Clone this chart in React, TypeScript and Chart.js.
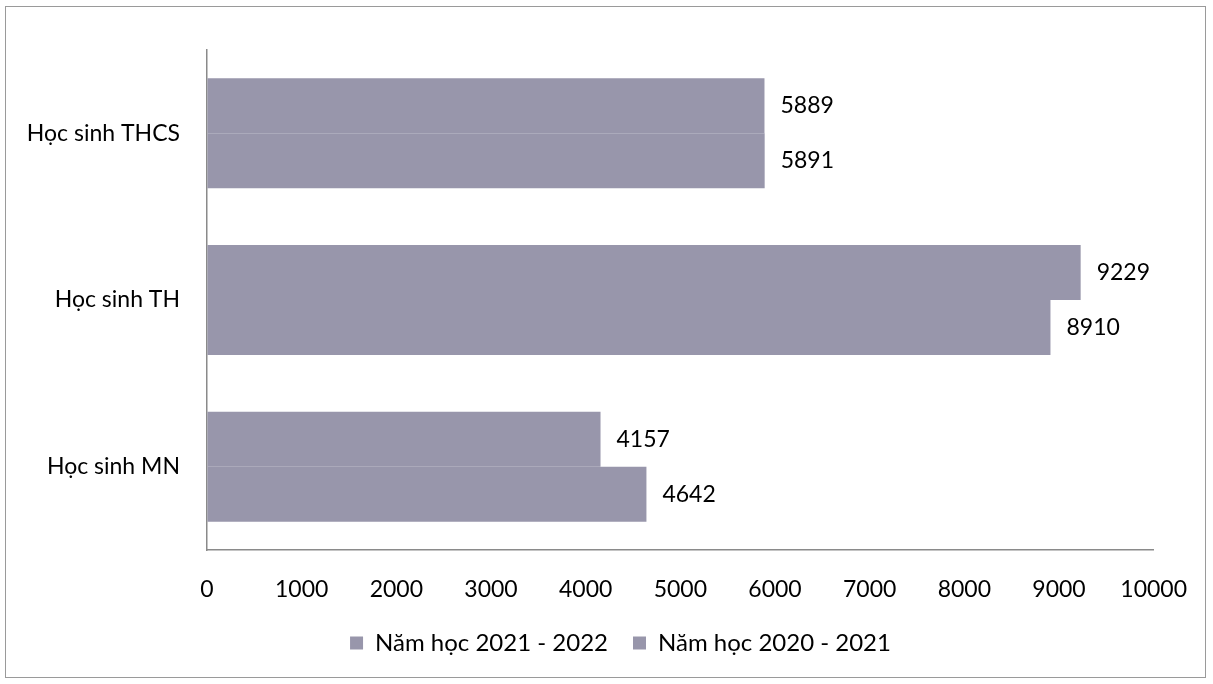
import React, { useEffect, useRef } from "react";
import { Chart, registerables } from "chart.js";

Chart.register(...registerables);

const categories = ["Học sinh THCS", "Học sinh TH", "Học sinh MN"];
const seriesNames = ["Năm học 2021 - 2022", "Năm học 2020 - 2021"];
const values2021_2022 = [5889, 9229, 4157];
const values2020_2021 = [5891, 8910, 4642];
const xMin = 0;
const xMax = 10000;
const xStep = 1000;

const FONT = "Lato, 'Noto Sans', sans-serif";

const valueLabels = {
  id: "valueLabels",
  afterDatasetsDraw(chart: any) {
    const ctx = chart.ctx;
    ctx.save();
    ctx.font = `23px ${FONT}`;
    ctx.fillStyle = "#000";
    ctx.textAlign = "left";
    ctx.textBaseline = "middle";
    chart.data.datasets.forEach((ds: any, di: number) => {
      const meta = chart.getDatasetMeta(di);
      meta.data.forEach((bar: any, i: number) => {
        ctx.fillText(String(ds.data[i]), bar.x + 16, bar.y);
      });
    });
    ctx.restore();
  },
};

// shift the bottom legend so it is centred like the original
const legendShift = {
  id: "legendShift",
  afterLayout(chart: any) {
    const lg = chart.legend;
    if (!lg) return;
    const offset = 42;
    lg.left += offset;
    lg.right += offset;
  },
};

export default function App() {
  const ref = useRef<HTMLCanvasElement>(null);
  useEffect(() => {
    if (!ref.current) return;
    const chart = new Chart(ref.current, {
      type: "bar",
      data: {
        labels: categories,
        datasets: [
          {
            label: seriesNames[0],
            data: values2021_2022,
            backgroundColor: "#9896ab",
          },
          {
            label: seriesNames[1],
            data: values2020_2021,
            backgroundColor: "#9896ab",
          },
        ],
      },
      options: {
        indexAxis: "y",
        animation: false,
        responsive: false,
        maintainAspectRatio: false,
        layout: { padding: { top: 50, right: 56, left: 0, bottom: 19 } },
        datasets: {
          bar: { categoryPercentage: 0.66, barPercentage: 1.0 },
        },
        plugins: {
          legend: {
            position: "bottom",
            labels: {
              boxWidth: 13,
              boxHeight: 13,
              padding: 25,
              color: "#000",
              font: { family: FONT, size: 24 },
            },
          },
          tooltip: { enabled: false },
        },
        scales: {
          x: {
            type: "linear",
            min: xMin,
            max: xMax,
            ticks: {
              stepSize: xStep,
              padding: 26,
              color: "#000",
              font: { family: FONT, size: 23 },
              callback: (v: any) => String(v),
            },
            grid: { drawOnChartArea: false, drawTicks: false, tickLength: 0 },
            border: { display: true, color: "#8a8a8a", width: 1.5 },
            afterFit(scale: any) {
              scale.height = 56;
            },
          },
          y: {
            ticks: {
              padding: 27,
              color: "#000",
              font: { family: FONT, size: 23 },
            },
            grid: { drawOnChartArea: false, drawTicks: false, tickLength: 0 },
            border: { display: true, color: "#8a8a8a", width: 1.5 },
            afterFit(scale: any) {
              scale.width = 207;
            },
          },
        },
      },
      plugins: [valueLabels, legendShift],
    });
    return () => chart.destroy();
  }, []);
  return (
    <div style={{ position: "absolute", left: 0, top: 0, width: 1213, height: 684, background: "#fff" }}>
      <canvas ref={ref} width={1213} height={684} style={{ position: "absolute", left: 0, top: 0 }} />
      <div
        style={{
          position: "absolute",
          left: 5,
          top: 6,
          width: 1199,
          height: 670,
          border: "1px solid #9a9a9a",
          pointerEvents: "none",
        }}
      />
    </div>
  );
}
